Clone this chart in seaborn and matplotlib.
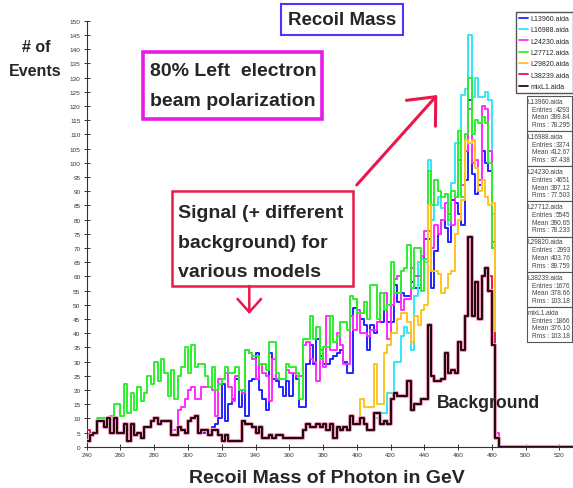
import numpy as np
import pandas as pd
import matplotlib
matplotlib.use("Agg")
import matplotlib.pyplot as plt
import matplotlib.patheffects as pe
from matplotlib.lines import Line2D
from matplotlib.patches import Rectangle, FancyArrowPatch
import seaborn as sns

# recoil mass histograms, 2 GeV bins starting at 240 GeV
bin_lo = 240
bin_hi = 528
bin_width = 2

l13960 = [0, 0, 0, 0, 0, 0, 0, 0, 0, 0,
          0, 0, 0, 0, 0, 0, 0, 0, 0, 0,
          0, 0, 0, 0, 0, 0, 0, 0, 0, 0,
          0, 0, 0, 0, 5, 6, 6, 7, 8, 10,
          22, 9, 15, 17, 24, 14, 20, 11, 23, 24,
          33, 20, 17, 13, 33, 24, 23, 21, 18, 23,
          18, 26, 24, 14, 14, 29, 36, 29, 38, 32,
          29, 29, 31, 32, 33, 34, 30, 26, 26, 49,
          47, 45, 43, 34, 43, 40, 44, 44, 48, 44,
          44, 57, 51, 54, 53, 53, 58, 56, 56, 66,
          73, 73, 56, 69, 75, 80, 77, 72, 87, 86,
          82, 78, 94, 122, 96, 89, 92, 104, 100, 97,
          70, 3, 0]

l16988 = [0, 0, 0, 0, 0, 0, 0, 0, 0, 0,
          0, 0, 0, 0, 0, 0, 0, 0, 0, 0,
          0, 0, 0, 0, 0, 0, 0, 0, 0, 0,
          0, 0, 0, 0, 0, 0, 0, 0, 0, 0,
          0, 0, 0, 0, 0, 0, 0, 0, 0, 0,
          0, 0, 0, 0, 0, 0, 0, 0, 0, 0,
          0, 0, 0, 0, 0, 0, 0, 0, 0, 0,
          0, 0, 0, 0, 0, 0, 0, 0, 0, 0,
          0, 0, 0, 0, 0, 0, 10, 12, 12, 19,
          19, 30, 30, 39, 42, 40, 34, 53, 65, 66,
          65, 101, 80, 85, 88, 84, 86, 78, 93, 107,
          107, 124, 126, 145, 123, 130, 123, 123, 125, 122,
          82, 3, 0]

l24230 = [0, 0, 0, 0, 0, 0, 0, 0, 0, 0,
          0, 0, 0, 0, 0, 0, 0, 0, 0, 0,
          0, 0, 0, 0, 0, 0, 6, 13, 14, 17,
          20, 21, 17, 17, 21, 21, 21, 20, 11, 24,
          24, 26, 21, 16, 25, 20, 19, 34, 33, 31,
          24, 29, 26, 25, 16, 31, 24, 24, 24, 27,
          26, 26, 25, 25, 36, 37, 31, 30, 23, 34,
          28, 46, 34, 34, 40, 36, 29, 29, 46, 41,
          48, 40, 40, 39, 41, 41, 44, 54, 54, 38,
          50, 59, 60, 48, 52, 52, 63, 60, 60, 67,
          76, 76, 70, 78, 75, 80, 86, 82, 78, 88,
          101, 92, 104, 119, 100, 101, 94, 120, 119, 104,
          72, 5, 0]

l27712 = [0, 0, 0, 10, 10, 10, 10, 11, 15, 15,
          11, 22, 12, 19, 13, 21, 16, 19, 25, 22,
          30, 23, 31, 26, 18, 27, 17, 25, 28, 35,
          26, 36, 28, 29, 29, 25, 21, 28, 20, 22,
          24, 28, 26, 26, 28, 20, 20, 34, 33, 32,
          32, 29, 29, 27, 37, 37, 26, 24, 24, 29,
          28, 28, 26, 17, 38, 38, 46, 38, 42, 31,
          35, 35, 46, 37, 39, 44, 44, 41, 53, 52,
          47, 47, 51, 45, 57, 57, 45, 54, 48, 50,
          65, 54, 54, 62, 63, 71, 56, 70, 70, 55,
          66, 97, 85, 94, 90, 88, 89, 80, 90, 88,
          111, 88, 110, 130, 110, 115, 114, 116, 114, 100,
          70, 3, 0]

l29820 = [0, 0, 0, 0, 0, 0, 0, 0, 0, 0,
          0, 0, 0, 0, 0, 0, 0, 0, 0, 0,
          0, 0, 0, 0, 0, 0, 0, 0, 0, 0,
          0, 0, 0, 0, 0, 0, 0, 0, 0, 0,
          0, 0, 0, 0, 0, 0, 0, 0, 0, 0,
          0, 0, 0, 0, 0, 0, 0, 0, 0, 0,
          0, 0, 0, 0, 0, 0, 0, 0, 0, 0,
          0, 0, 0, 0, 0, 0, 0, 0, 0, 0,
          9, 17, 14, 14, 14, 29, 15, 15, 33, 36,
          40, 40, 45, 47, 47, 44, 37, 46, 43, 48,
          50, 85, 62, 62, 61, 54, 56, 61, 62, 75,
          80, 87, 108, 107, 108, 98, 90, 94, 88, 85,
          86, 3, 0]

l38239 = [6, 4, 5, 9, 9, 7, 10, 5, 10, 5,
          5, 8, 2, 8, 4, 5, 3, 7, 7, 9,
          10, 8, 9, 9, 9, 4, 4, 6, 6, 5,
          9, 10, 10, 5, 6, 6, 4, 6, 6, 4,
          2, 4, 2, 2, 2, 2, 9, 8, 8, 7,
          5, 7, 3, 3, 4, 3, 4, 4, 3, 3,
          3, 3, 3, 3, 6, 8, 7, 7, 8, 7,
          8, 6, 8, 3, 7, 6, 7, 6, 11, 8,
          8, 10, 8, 6, 6, 12, 12, 8, 9, 8,
          17, 19, 18, 18, 18, 23, 13, 15, 15, 17,
          17, 43, 25, 23, 23, 24, 33, 26, 27, 26,
          37, 34, 46, 74, 46, 58, 45, 60, 63, 60,
          40, 3, 0, 0, 0, 0, 0, 0, 0, 0,
          0, 0, 0, 0, 0, 0, 0, 0, 0, 0,
          0, 0, 0, 0]

mixl1 = [2, 4, 5, 9, 9, 7, 10, 5, 10, 5,
         5, 8, 2, 8, 4, 5, 3, 7, 7, 9,
         10, 8, 9, 9, 9, 4, 4, 7, 6, 5,
         9, 10, 11, 5, 6, 6, 4, 6, 6, 4,
         2, 4, 2, 2, 2, 2, 9, 8, 8, 7,
         5, 7, 3, 3, 4, 3, 4, 4, 3, 3,
         3, 3, 3, 3, 6, 8, 7, 7, 8, 7,
         8, 6, 8, 3, 7, 6, 7, 6, 11, 8,
         8, 10, 8, 6, 6, 12, 12, 8, 9, 8,
         17, 19, 18, 18, 18, 23, 13, 15, 15, 17,
         17, 43, 25, 23, 23, 24, 33, 26, 27, 26,
         37, 34, 46, 74, 46, 58, 45, 60, 63, 55,
         36, 3, 0, 0, 0, 0, 0, 0, 0, 0,
         0, 0, 0, 0, 0, 0, 0, 0, 0, 0,
         0, 0, 0, 0]

names = ["L13960.aida", "L16988.aida", "L24230.aida", "L27712.aida",
         "L29820.aida", "L38239.aida", "mixL1.aida"]
entries = [4293, 3374, 4651, 5545, 2993, 1676, 1866]
means = [399.84, 412.67, 397.12, 390.65, 403.76, 378.66, 376.10]
rms = [78.295, 87.438, 77.503, 78.233, 89.759, 103.18, 103.18]
colors = ["#2424ff", "#33e6f6", "#ff2cff", "#2cf02c", "#ffc31f", "#f0124a", "#2a0812"]

x_ticks = list(range(240, 521, 20))
y_ticks = list(range(0, 151, 5))

sns.set_style("ticks")
plt.rcParams["font.family"] = ["Liberation Sans", "DejaVu Sans"]

W, H = 573, 489
fig = plt.figure(figsize=(W / 100, H / 100), dpi=100)
ax = fig.add_axes([86.7 / W, 1 - 447.8 / H, (W - 86.7) / W, (447.8 - 21.7) / H])

edges = np.arange(bin_lo, bin_hi + bin_width, bin_width)
centers = edges[:-1] + bin_width / 2


def draw(values, color, lw, z, **kw):
    vals = np.asarray(values, dtype=float)
    start = int(np.nonzero(vals)[0][0])
    stop = len(vals)
    df = pd.DataFrame({"mass": centers[start:stop], "count": vals[start:stop]})
    sns.histplot(data=df, x="mass", weights="count",
                 bins=[float(e) for e in edges[start:stop + 1]],
                 element="step", fill=False, color=color, lw=lw, zorder=z,
                 ax=ax, **kw)


series = [l13960, l16988, l24230, l27712, l29820, l38239]
for i, vals in enumerate(series):
    draw(vals, colors[i], 1.4, 2 + i)
draw(mixl1, colors[6], 1.5, 10,
     path_effects=[pe.Stroke(linewidth=3.0, foreground="#f2a3c2"), pe.Normal()])

ax.set_xlim(240, 240 + (W - 86.7) / 1.688)
ax.set_ylim(0, 150)
ax.set_xticks(x_ticks)
ax.set_yticks(y_ticks)
ax.set_xlabel("")
ax.set_ylabel("")
sns.despine(ax=ax)
for s in ["left", "bottom"]:
    ax.spines[s].set_color("#333333")
    ax.spines[s].set_linewidth(0.8)
ax.tick_params(axis="both", direction="inout", length=5, width=0.7,
               labelsize=4.6, labelcolor="#333333", color="#333333")
ax.tick_params(axis="y", pad=2)
ax.tick_params(axis="x", pad=1)


def fx(x):
    return x / W


def fy(y):
    return 1 - y / H


def box(x0, y0, x1, y1, color, lw):
    fig.add_artist(Rectangle((fx(x0), fy(y1)), (x1 - x0) / W, (y1 - y0) / H,
                             transform=fig.transFigure, fill=False,
                             edgecolor=color, linewidth=lw, zorder=20))


# legend
handles = [Line2D([], [], color=c, lw=1.3) for c in colors]
ax.legend(handles, names, loc="upper right", bbox_to_anchor=(fx(572.7), fy(13)),
          bbox_transform=fig.transFigure, fontsize=5, frameon=True, fancybox=False,
          edgecolor="#555555", framealpha=1, borderaxespad=0, handlelength=1.3,
          handletextpad=0.3, labelspacing=0.62, borderpad=0.45)

# statistics boxes
for i, name in enumerate(names):
    top = 96.7 + i * 35.2
    fig.add_artist(Rectangle((fx(526.7), fy(top + 35.2)), 45.6 / W, 35.2 / H,
                             transform=fig.transFigure, facecolor="white",
                             edgecolor="#555555", linewidth=0.8, zorder=20))
    kw = dict(fontsize=4.7, color="#444444", va="center", zorder=21)
    fig.text(fx(527.5), fy(top + 5.5), name, ha="left", **kw)
    rows = [("Entries :", f"{entries[i]}"), ("Mean :", f"{means[i]:#.5g}"),
            ("Rms :", f"{rms[i]:#.5g}")]
    for j, (lab, val) in enumerate(rows):
        yy = top + 13.5 + j * 7.6
        fig.text(fx(531.5), fy(yy), lab, ha="left", **kw)
        fig.text(fx(570.5), fy(yy), val, ha="right", **kw)

# annotations
box(280.7, 5, 402.7, 36, "#5b2dff", 1.5)
fig.text(fx(341.7), fy(20.7), "Recoil Mass", ha="center", va="center",
         fontsize=13.5, fontweight="bold")

box(143.3, 53.3, 321.7, 120, "#e61be6", 2.6)
fig.text(fx(150), fy(72), "80% Left  electron", ha="left", va="center",
         fontsize=14, fontweight="bold")
fig.text(fx(150), fy(101), "beam polarization", ha="left", va="center",
         fontsize=14, fontweight="bold")

box(171.7, 191.7, 352.7, 286.7, "#e8194a", 1.8)
for k, line in enumerate(["Signal (+ different", "background) for", "various models"]):
    fig.text(fx(177.7), fy(213.5 + k * 29.6), line, ha="left", va="center",
             fontsize=14, fontweight="bold")

arrow_color = "#e8194a"
fig.add_artist(FancyArrowPatch(
    (fx(356.7), fy(186)), (fx(437.3), fy(96)), transform=fig.transFigure,
    arrowstyle="->, head_length=1.6, head_width=1.4", mutation_scale=10,
    color=arrow_color, lw=2.2, shrinkA=0, shrinkB=0, zorder=22))
fig.add_artist(FancyArrowPatch(
    (fx(249.3), fy(287)), (fx(249.3), fy(315)), transform=fig.transFigure,
    arrowstyle="->, head_length=0.95, head_width=0.85", mutation_scale=10,
    color=arrow_color, lw=1.8, shrinkA=0, shrinkB=0, zorder=22))

fig.text(fx(436.7), fy(403.3), "Background", ha="left", va="center",
         fontsize=12.7, fontweight="bold", zorder=22)

fig.text(fx(36), fy(47), "# of", ha="center", va="center", fontsize=11.5, fontweight="bold")
fig.text(fx(35), fy(72), "Events", ha="center", va="center", fontsize=11.5, fontweight="bold")

fig.text(fx(327), fy(479), "Recoil Mass of Photon in GeV", ha="center", va="center",
         fontsize=14, fontweight="bold")

fig.savefig("out.png", dpi=100)
